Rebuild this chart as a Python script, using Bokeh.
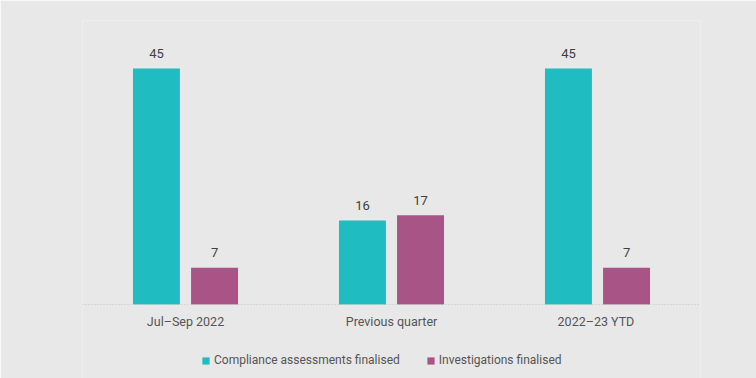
from bokeh.plotting import figure
from bokeh.models import ColumnDataSource, Legend, LegendItem, Range1d, Span
from bokeh.transform import dodge
from bokeh.core.properties import value
from bokeh.embed import file_html
from bokeh.resources import INLINE

categories = ["Jul\u2013Sep 2022", "Previous quarter", "2022\u201323  YTD"]
compliance = [45, 16, 45]
investigations = [7, 17, 7]
series_names = ["Compliance assessments finalised", "Investigations finalised"]
colors = ["#1fbdc1", "#a85487"]

BG = "#e8e8e8"
FONT = "Roboto"

src = ColumnDataSource(dict(cat=categories, comp=compliance, inv=investigations,
                            comp_lbl=[str(v) for v in compliance],
                            inv_lbl=[str(v) for v in investigations]))

# y range extends below zero so the legend area lies inside the frame
p = figure(x_range=categories, y_range=Range1d(-14.11, 54.16),
           width=756, height=378,
           x_axis_location=None, y_axis_location=None,
           output_backend="svg", toolbar_location=None,
           background_fill_color=BG, background_fill_alpha=1.0, border_fill_color=BG,
           min_border_left=82, min_border_right=56, min_border_top=20, min_border_bottom=0)
p.outline_line_color = None
p.xgrid.visible = False
p.ygrid.visible = False

off = 0.141
w = 0.228
r1 = p.vbar(x=dodge("cat", -off, range=p.x_range), top="comp", bottom=0, width=w, source=src,
            fill_color=colors[0], line_color=None)
r2 = p.vbar(x=dodge("cat", off, range=p.x_range), top="inv", bottom=0, width=w, source=src,
            fill_color=colors[1], line_color=None)

# dotted baseline at zero
p.add_layout(Span(location=0, dimension="width", line_color="#c4c4c4",
                  line_dash="1 2", line_width=1))

# value labels
for col, lbl, o in (("comp", "comp_lbl", -off), ("inv", "inv_lbl", off)):
    p.text(x=dodge("cat", o, range=p.x_range), y=col, text=lbl, source=src,
           text_align="center", text_baseline="alphabetic", y_offset=-15,
           text_font=value(FONT), text_font_size="13px", text_color="#404040")

# category labels under the baseline
p.text(x="cat", y=0, text="cat", source=src,
       text_align="center", text_baseline="top", y_offset=9,
       text_font=value(FONT), text_font_size="12.5px", text_color="#555555")

legend = Legend(items=[LegendItem(label=series_names[0], renderers=[r1]),
                       LegendItem(label=series_names[1], renderers=[r2])],
                orientation="horizontal", location=(119, 11),
                background_fill_alpha=0,
                border_line_color=None,
                label_text_font=FONT, label_text_font_size="12px",
                label_text_color="#555555", label_height=14,
                glyph_width=9, glyph_height=9, label_standoff=4,
                spacing=26, margin=0, padding=2)
p.add_layout(legend, "center")

open("out.html", "w").write(file_html(p, INLINE))
